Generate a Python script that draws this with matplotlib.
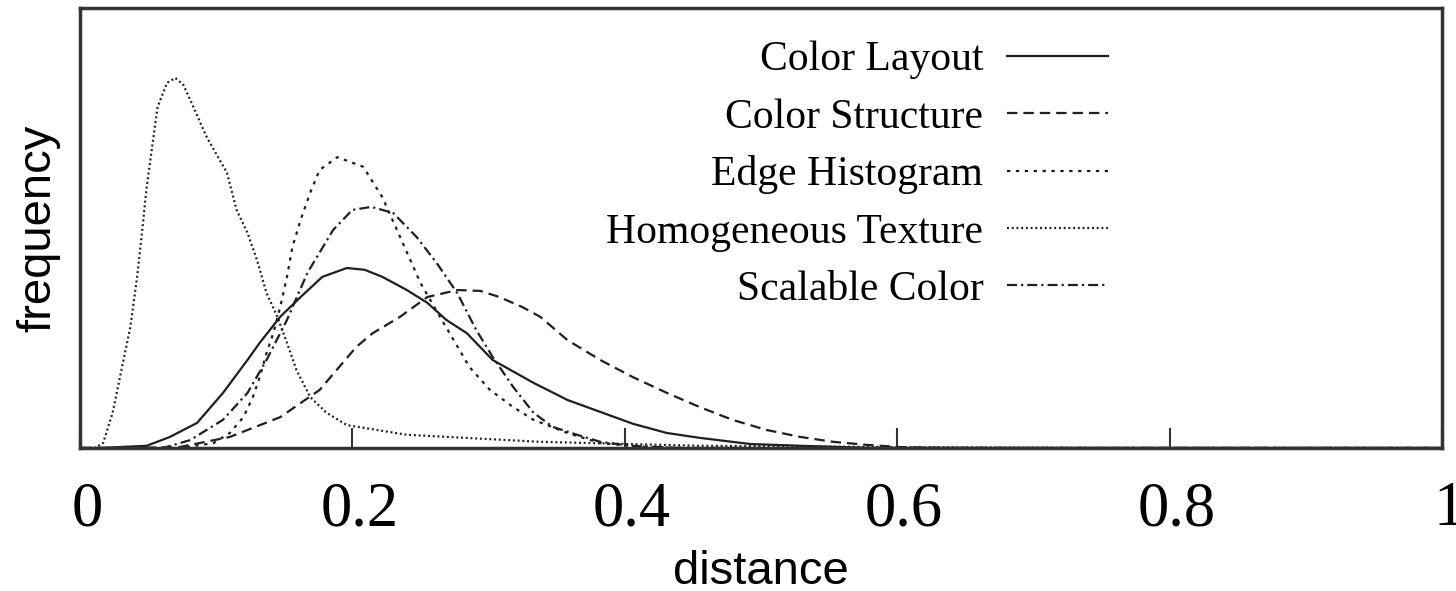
import matplotlib
matplotlib.use("Agg")
import matplotlib.pyplot as plt
import matplotlib.transforms as mtransforms

# distance values and frequencies (arbitrary units, peak of tallest ~0.84)
layout_x = [0.0, 0.015, 0.049, 0.066, 0.086, 0.105, 0.123, 0.132, 0.147, 0.162, 0.178, 0.196,
            0.209, 0.222, 0.240, 0.255, 0.269, 0.284, 0.303, 0.333, 0.358, 0.382, 0.406,
            0.431, 0.455, 0.492, 0.529, 0.580, 1.0]
layout_y = [0.0, 0.0, 0.005, 0.025, 0.057, 0.125, 0.200, 0.239, 0.298, 0.343, 0.389, 0.409,
            0.405, 0.389, 0.359, 0.330, 0.291, 0.261, 0.200, 0.148, 0.109, 0.082, 0.055,
            0.034, 0.023, 0.009, 0.005, 0.0, 0.0]

structure_x = [0.0, 0.037, 0.073, 0.110, 0.147, 0.176, 0.203, 0.215, 0.235, 0.255, 0.277,
               0.294, 0.308, 0.325, 0.338, 0.358, 0.382, 0.406, 0.431, 0.455, 0.479, 0.504,
               0.529, 0.553, 0.578, 0.602, 0.639, 1.0]
structure_y = [0.0, 0.0, 0.002, 0.025, 0.070, 0.132, 0.230, 0.261, 0.298, 0.343, 0.359,
               0.357, 0.343, 0.320, 0.298, 0.245, 0.200, 0.161, 0.125, 0.093, 0.064, 0.041,
               0.025, 0.014, 0.007, 0.002, 0.0, 0.0]

edge_x = [0.0, 0.073, 0.098, 0.110, 0.120, 0.127, 0.132, 0.137, 0.142, 0.147, 0.152, 0.156,
          0.162, 0.169, 0.176, 0.189, 0.208, 0.222, 0.235, 0.250, 0.267, 0.286, 0.301, 0.318,
          0.333, 0.358, 0.382, 0.418, 0.455, 1.0]
edge_y = [0.0, 0.0, 0.011, 0.034, 0.070, 0.116, 0.161, 0.216, 0.261, 0.320, 0.389, 0.457,
          0.518, 0.580, 0.632, 0.661, 0.639, 0.570, 0.480, 0.375, 0.284, 0.184, 0.132, 0.093,
          0.064, 0.034, 0.011, 0.002, 0.0, 0.0]

texture_x = [0.0, 0.011, 0.017, 0.024, 0.032, 0.037, 0.042, 0.046, 0.049, 0.053, 0.057, 0.064,
             0.070, 0.076, 0.081, 0.093, 0.108, 0.115, 0.123, 0.130, 0.137, 0.145, 0.152,
             0.159, 0.169, 0.181, 0.196, 0.240, 0.338, 0.455, 0.602, 0.750, 1.0]
texture_y = [0.0, 0.0, 0.011, 0.080, 0.200, 0.275, 0.389, 0.502, 0.593, 0.684, 0.775, 0.830,
             0.841, 0.825, 0.791, 0.707, 0.625, 0.541, 0.489, 0.427, 0.352, 0.298, 0.239,
             0.177, 0.116, 0.080, 0.052, 0.030, 0.014, 0.005, 0.002, 0.0, 0.0]

scalable_x = [0.0, 0.061, 0.081, 0.105, 0.123, 0.137, 0.152, 0.167, 0.186, 0.200, 0.214,
              0.230, 0.247, 0.262, 0.277, 0.291, 0.303, 0.318, 0.333, 0.347, 0.365, 0.382,
              0.404, 0.441, 1.0]
scalable_y = [0.0, 0.0, 0.018, 0.064, 0.125, 0.200, 0.291, 0.398, 0.496, 0.541, 0.548,
              0.534, 0.480, 0.420, 0.352, 0.268, 0.207, 0.139, 0.080, 0.048, 0.030, 0.014,
              0.005, 0.0, 0.0]

labels = ["Color Layout", "Color Structure", "Edge Histogram",
          "Homogeneous Texture", "Scalable Color"]
xticks = [0, 0.2, 0.4, 0.6, 0.8, 1]
xticklabels = ["0", "0.2", "0.4", "0.6", "0.8", "1"]

plt.rcParams["lines.scale_dashes"] = False

fig = plt.figure(figsize=(14.56, 5.91), dpi=100)
ax = fig.add_axes([0.0549, 0.242, 0.9355, 0.7445])

line_color = "#1f1f1f"
lw = 1.6
styles = [
    "-",
    (0, (7.5, 4.3)),
    (0, (2.4, 4.0)),
    (0, (1.4, 2.0)),
    (0, (7.2, 2.9, 1.6, 2.9)),
]
series = [(layout_x, layout_y), (structure_x, structure_y), (edge_x, edge_y),
          (texture_x, texture_y), (scalable_x, scalable_y)]

for (xs, ys), ls, lab in zip(series, styles, labels):
    ax.plot(xs, ys, color=line_color, lw=lw, linestyle=ls, label=lab)

ax.set_xlim(0, 1)
ax.set_ylim(0, 1)
ax.set_yticks([])
ax.set_xticks(xticks)
ax.set_xticklabels(xticklabels, family="Liberation Serif", fontsize=45)
ax.tick_params(axis="x", direction="in", length=14.5, width=1.5, color="#333333",
               pad=24, top=False)
offset = mtransforms.ScaledTranslation(0.07, 0, fig.dpi_scale_trans)
for t in ax.get_xticklabels():
    t.set_transform(t.get_transform() + offset)

for sp in ax.spines.values():
    sp.set_linewidth(2.5)
    sp.set_color("#333333")

ax.set_xlabel("distance", family="Liberation Sans", fontsize=34)
ax.xaxis.set_label_coords(0.5, -0.231)
ax.set_ylabel("frequency", family="Liberation Sans", fontsize=34)
ax.yaxis.set_label_coords(-0.014, 0.5)

leg = ax.legend(loc="upper right", bbox_to_anchor=(0.755, 0.925), frameon=False,
                markerfirst=False, borderpad=0, borderaxespad=0,
                handlelength=2.42, handletextpad=0.58, labelspacing=0.45,
                prop={"family": "Liberation Serif", "size": 30})
for t in leg.get_texts():
    t.set_color("black")

fig.savefig("out.png", dpi=100)
